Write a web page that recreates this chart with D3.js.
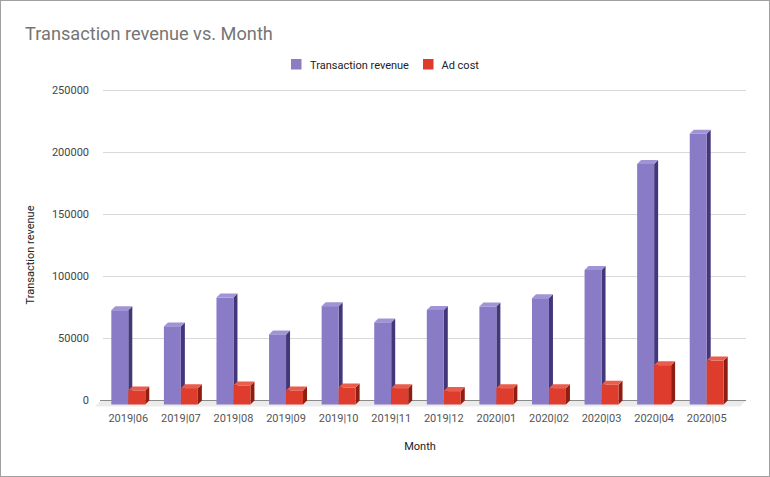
<!DOCTYPE html>
<html>
<head>
<meta charset="utf-8">
<script src="https://cdn.jsdelivr.net/npm/d3@7"></script>
<style>
  html, body { margin: 0; padding: 0; background: #fff; }
  svg { display: block; font-family: Roboto, "Noto Sans", sans-serif; }
</style>
</head>
<body>
<svg id="chart" width="770" height="477"></svg>
<script>
const months = ["2019|06","2019|07","2019|08","2019|09","2019|10","2019|11","2019|12","2020|01","2020|02","2020|03","2020|04","2020|05"];
const transactionRevenue = [76000, 63000, 86200, 56500, 79300, 66200, 76300, 79000, 85700, 108500, 194000, 218300];
const adCost = [11300, 13200, 15300, 11300, 13700, 13200, 10800, 13200, 13200, 15900, 31700, 35400];
const yTicks = [0, 50000, 100000, 150000, 200000, 250000];
const seriesNames = ["Transaction revenue", "Ad cost"];

const colors = {
  "Transaction revenue": { front: "#8a7bc6", side: "#43377a", top: "#a093d6", legend: "#8e7cc3" },
  "Ad cost": { front: "#de3d2e", side: "#8e1d12", top: "#ea5c4c", legend: "#e03a2c" }
};

const svg = d3.select("#chart");
const W = 770, H = 477;
const depth = 4;

// border
svg.append("rect").attr("x", 0.5).attr("y", 0.5).attr("width", W - 1).attr("height", H - 1)
  .attr("fill", "#fff").attr("stroke", "#a0a0a0").attr("stroke-width", 1);

const x = d3.scaleBand().domain(months).range([102, 733]).paddingInner(0.354).paddingOuter(0.177);
const xs = d3.scaleBand().domain(seriesNames).range([0, x.bandwidth()]);
const y = d3.scaleLinear().domain([0, 250000]).range([400.5, 90.5]);

const gridX0 = x.range()[0] + 1, gridX1 = x.range()[1] + 13;

// gridlines
svg.append("g").selectAll("line").data(yTicks.filter(d => d > 0)).join("line")
  .attr("x1", gridX0).attr("x2", gridX1)
  .attr("y1", d => y(d)).attr("y2", d => y(d))
  .attr("stroke", "#d9d9d9").attr("stroke-width", 1);

// floor
const y0 = y(0);
svg.append("polygon")
  .attr("points", [[gridX0 - 2, y0], [gridX1, y0], [gridX1 - 6, y0 + 6], [gridX0 - 8, y0 + 6]].map(p => p.join(",")).join(" "))
  .attr("fill", "#ebebeb");
svg.append("line").attr("x1", gridX0 - 3).attr("x2", gridX1).attr("y1", y0).attr("y2", y0)
  .attr("stroke", "#8a8a8a").attr("stroke-width", 1.2);

// y tick labels
svg.append("g").selectAll("text").data(yTicks).join("text")
  .attr("x", 89).attr("y", d => y(d)).attr("dy", "0.35em")
  .attr("text-anchor", "end").attr("font-size", 11).attr("fill", "#444")
  .text(d => d);

// bars
const data = months.map((m, i) => ({ m, vals: [
  { s: "Transaction revenue", v: transactionRevenue[i] },
  { s: "Ad cost", v: adCost[i] }
]}));

const barsG = svg.append("g");
data.forEach(d => {
  d.vals.forEach(b => {
    const bx = x(d.m) + xs(b.s);
    const w = xs.bandwidth();
    const yt = y(b.v) + depth;
    const yb = y(0) + depth;
    const c = colors[b.s];
    const g = barsG.append("g");
    // side
    g.append("polygon")
      .attr("points", [[bx + w, yt], [bx + w + depth, yt - depth], [bx + w + depth, yb - depth], [bx + w, yb]].map(p => p.join(",")).join(" "))
      .attr("fill", c.side);
    // top
    g.append("polygon")
      .attr("points", [[bx, yt], [bx + w, yt], [bx + w + depth, yt - depth], [bx + depth, yt - depth]].map(p => p.join(",")).join(" "))
      .attr("fill", c.top);
    // front
    g.append("rect").attr("x", bx).attr("y", yt).attr("width", w).attr("height", yb - yt)
      .attr("fill", c.front);
  });
});

// x labels
svg.append("g").selectAll("text").data(months).join("text")
  .attr("x", d => x(d) + x.bandwidth() / 2).attr("y", 422)
  .attr("text-anchor", "middle").attr("font-size", 11).attr("fill", "#555")
  .text(d => d);

// axis titles
svg.append("text").attr("x", 420).attr("y", 450).attr("text-anchor", "middle")
  .attr("font-size", 11).attr("fill", "#222").text("Month");
svg.append("text").attr("transform", "translate(34,255) rotate(-90)").attr("text-anchor", "middle")
  .attr("font-size", 11).attr("fill", "#222").text("Transaction revenue");

// title
svg.append("text").attr("x", 25).attr("y", 40).attr("font-size", 18.2).attr("fill", "#757575")
  .text("Transaction revenue vs. Month");

// legend
const legendItems = [
  { name: seriesNames[0], x: 291, tx: 310 },
  { name: seriesNames[1], x: 423, tx: 441.5 }
];
const lg = svg.append("g");
legendItems.forEach(li => {
  lg.append("rect").attr("x", li.x).attr("y", 59).attr("width", 10.5).attr("height", 10.5)
    .attr("fill", colors[li.name].legend);
  lg.append("text").attr("x", li.tx).attr("y", 68.5).attr("font-size", 11).attr("fill", "#222")
    .text(li.name);
});
</script>
</body>
</html>
